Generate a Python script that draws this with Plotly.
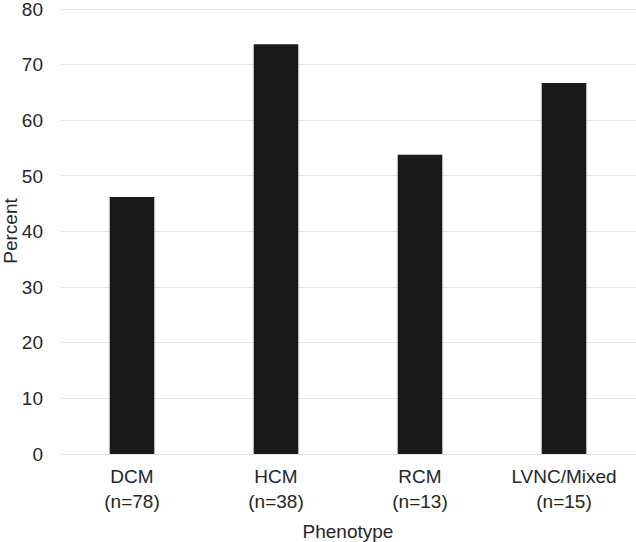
import plotly.graph_objects as go

categories = ["DCM<br>(n=78)", "HCM<br>(n=38)", "RCM<br>(n=13)", "LVNC/Mixed<br>(n=15)"]
percent = [46.2, 73.7, 53.8, 66.7]
y_ticks = [0, 10, 20, 30, 40, 50, 60, 70, 80]

fig = go.Figure(go.Bar(x=categories, y=percent, marker=dict(color="#1a1a1a", line=dict(width=0)), width=0.31))

fig.update_layout(
    width=636, height=542,
    margin=dict(l=60, r=0, t=8, b=88),
    paper_bgcolor="white", plot_bgcolor="white",
    font=dict(family="Liberation Sans, Arial, sans-serif", size=19, color="#262626"),
    showlegend=False,
)
fig.update_xaxes(title=dict(text="Phenotype", standoff=14, font=dict(size=19)), showgrid=False, showline=False, ticks="",
                 automargin=False, ticklabelstandoff=9)
fig.update_yaxes(title=dict(text="Percent", standoff=6, font=dict(size=19)), range=[0, 80.2], tickvals=y_ticks, showgrid=True,
                 gridcolor="#e6e6e6", gridwidth=1, zeroline=True, zerolinecolor="#e6e6e6", zerolinewidth=1,
                 showline=False, ticks="", ticklabelstandoff=16, automargin=False, ticklabeloverflow="allow")
fig.write_html("out.html", config={"displayModeBar": False},
               post_script="document.body.style.margin='0';document.body.style.padding='0';")
